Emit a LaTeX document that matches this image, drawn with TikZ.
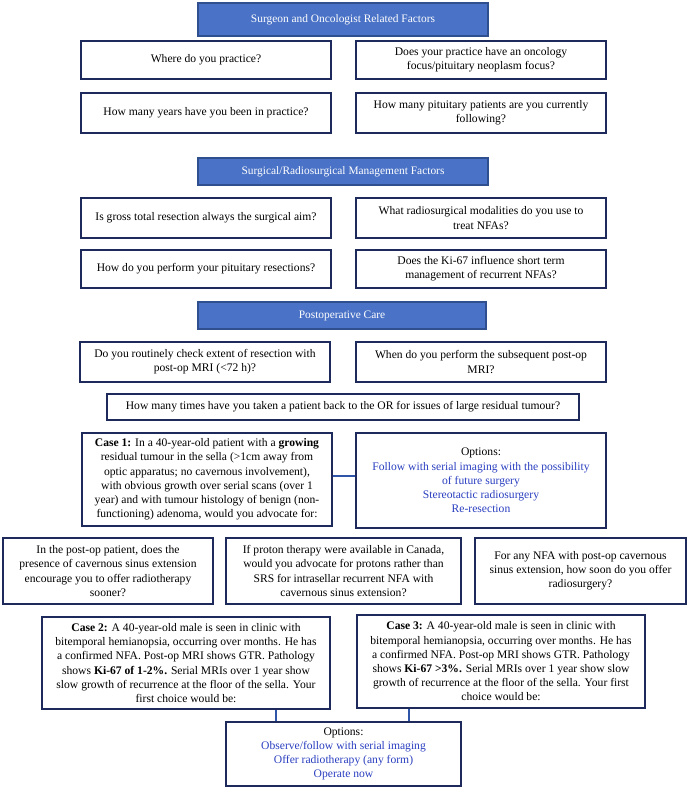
\documentclass[tikz,border=0pt]{standalone}
\usepackage{fontspec}
\setmainfont{Liberation Serif}
\usepackage{tikz}
\definecolor{hdrblue}{HTML}{4A72C6}
\definecolor{hdredge}{HTML}{2F4F8F}
\definecolor{boxedge}{HTML}{1F2A5C}
\definecolor{optblue}{HTML}{2A3FC0}
\definecolor{linkblue}{HTML}{2E55A8}

\begin{document}
\begin{tikzpicture}[x=1pt,y=-1pt,
		header/.style={draw=hdredge,fill=hdrblue,line width=1.3pt,text=white,inner sep=0pt,font=\fontsize{11.4}{14}\selectfont},
		qbox/.style 2 args={draw=boxedge,fill=white,line width=1.2pt,align=center,inner sep=0pt,minimum width=#1,minimum height=#2,font=\fontsize{11.6}{14.2}\selectfont},
		link/.style={draw=linkblue,line width=2pt}]
	\useasboundingbox (0,0) rectangle (687,789);
	\pgfmathsetmacro{\boxw}{250}
	\pgfmathsetmacro{\lx}{206}
	\pgfmathsetmacro{\rx}{481}

	\node[header,minimum width=290pt,minimum height=33pt] (surgeon) at (343,19.5) {Surgeon and Oncologist Related Factors};
	\node[qbox={\boxw pt}{38pt}] (where) at (\lx,60) {Where do you practice?};
	\node[qbox={\boxw pt}{38pt}] (focus) at (\rx,60) {Does your practice have an oncology\\focus/pituitary neoplasm focus?};
	\node[qbox={\boxw pt}{40pt}] (years) at (\lx,113) {How many years have you been in practice?};
	\node[qbox={\boxw pt}{40pt}] (following) at (\rx,113) {How many pituitary patients are you currently\\following?};

	\node[header,minimum width=290pt,minimum height=27pt] (management) at (343,171.5) {Surgical/Radiosurgical Management Factors};
	\node[qbox={\boxw pt}{40pt}] (aim) at (\lx,218) {Is gross total resection always the surgical aim?};
	\node[qbox={\boxw pt}{40pt}] (modalities) at (\rx,218) {What radiosurgical modalities do you use to\\treat NFAs?};
	\node[qbox={\boxw pt}{38pt}] (resections) at (\lx,269) {How do you perform your pituitary resections?};
	\node[qbox={\boxw pt}{38pt}] (kisixseven) at (\rx,269) {Does the Ki-67 influence short term\\management of recurrent NFAs?};

	\node[header,minimum width=288pt,minimum height=27pt] (postop) at (342,315.5) {Postoperative Care};
	\node[qbox={\boxw pt}{40pt}] (extent) at (205,362) {Do you routinely check extent of resection with\\post-op MRI (<72 h)?};
	\node[qbox={\boxw pt}{40pt}] (subsequent) at (\rx,362) {When do you perform the subsequent post-op\\MRI?};
	\node[qbox={472pt}{26pt}] (backtoor) at (343,407) {How many times have you taken a patient back to the OR for issues of large residual tumour?};

	\node[qbox={\boxw pt}{93pt}] (case1) at (207,479.5) {\textbf{Case 1:} In a 40-year-old patient with a \textbf{growing}\\residual tumour in the sella (>1cm away from\\optic apparatus; no cavernous involvement),\\with obvious growth over serial scans (over 1\\year) and with tumour histology of benign (non-\\functioning) adenoma, would you advocate for:};
	\node[qbox={\boxw pt}{95pt}] (options1) at (\rx,480.5) {Options:\\\textcolor{optblue}{Follow with serial imaging with the possibility}\\\textcolor{optblue}{of future surgery}\\\textcolor{optblue}{Stereotactic radiosurgery}\\\textcolor{optblue}{Re-resection}};
	\draw[link] ([yshift=4pt]case1.east) -- ([yshift=4pt]case1.east -| options1.west);

	\node[qbox={210pt}{66pt}] (sinus) at (108,571) {In the post-op patient, does the\\presence of cavernous sinus extension\\encourage you to offer radiotherapy\\sooner?};
	\node[qbox={235pt}{66pt}] (protons) at (343.5,571) {If proton therapy were available in Canada,\\would you advocate for protons rather than\\SRS for intrasellar recurrent NFA with\\cavernous sinus extension?};
	\node[qbox={211pt}{66pt}] (howsoon) at (580.5,571) {For any NFA with post-op cavernous\\sinus extension, how soon do you offer\\radiosurgery?};

	\node[qbox={288pt}{92pt}] (case2) at (186,663) {\textbf{Case 2:} A 40-year-old male is seen in clinic with\\bitemporal hemianopsia, occurring over months. He has\\a confirmed NFA. Post-op MRI shows GTR. Pathology\\shows \textbf{Ki-67 of 1-2\%.} Serial MRIs over 1 year show\\slow growth of recurrence at the floor of the sella. Your\\first choice would be:};
	\node[qbox={288pt}{93pt}] (case3) at (501,661.5) {\textbf{Case 3:} A 40-year-old male is seen in clinic with\\bitemporal hemianopsia, occurring over months. He has\\a confirmed NFA. Post-op MRI shows GTR. Pathology\\shows \textbf{Ki-67 >3\%.} Serial MRIs over 1 year show slow\\growth of recurrence at the floor of the sella. Your first\\choice would be:};
	\node[qbox={235pt}{64pt}] (options2) at (343.5,754) {Options:\\\textcolor{optblue}{Observe/follow with serial imaging}\\\textcolor{optblue}{Offer radiotherapy (any form)}\\\textcolor{optblue}{Operate now}};
	\coordinate (joincase2) at ([xshift=51pt]options2.north west);
	\coordinate (joincase3) at ([xshift=-53pt]options2.north east);
	\draw[link] (joincase2) -- (joincase2 |- case2.south);
	\draw[link] (joincase3) -- (joincase3 |- case3.south);
\end{tikzpicture}
\end{document}
